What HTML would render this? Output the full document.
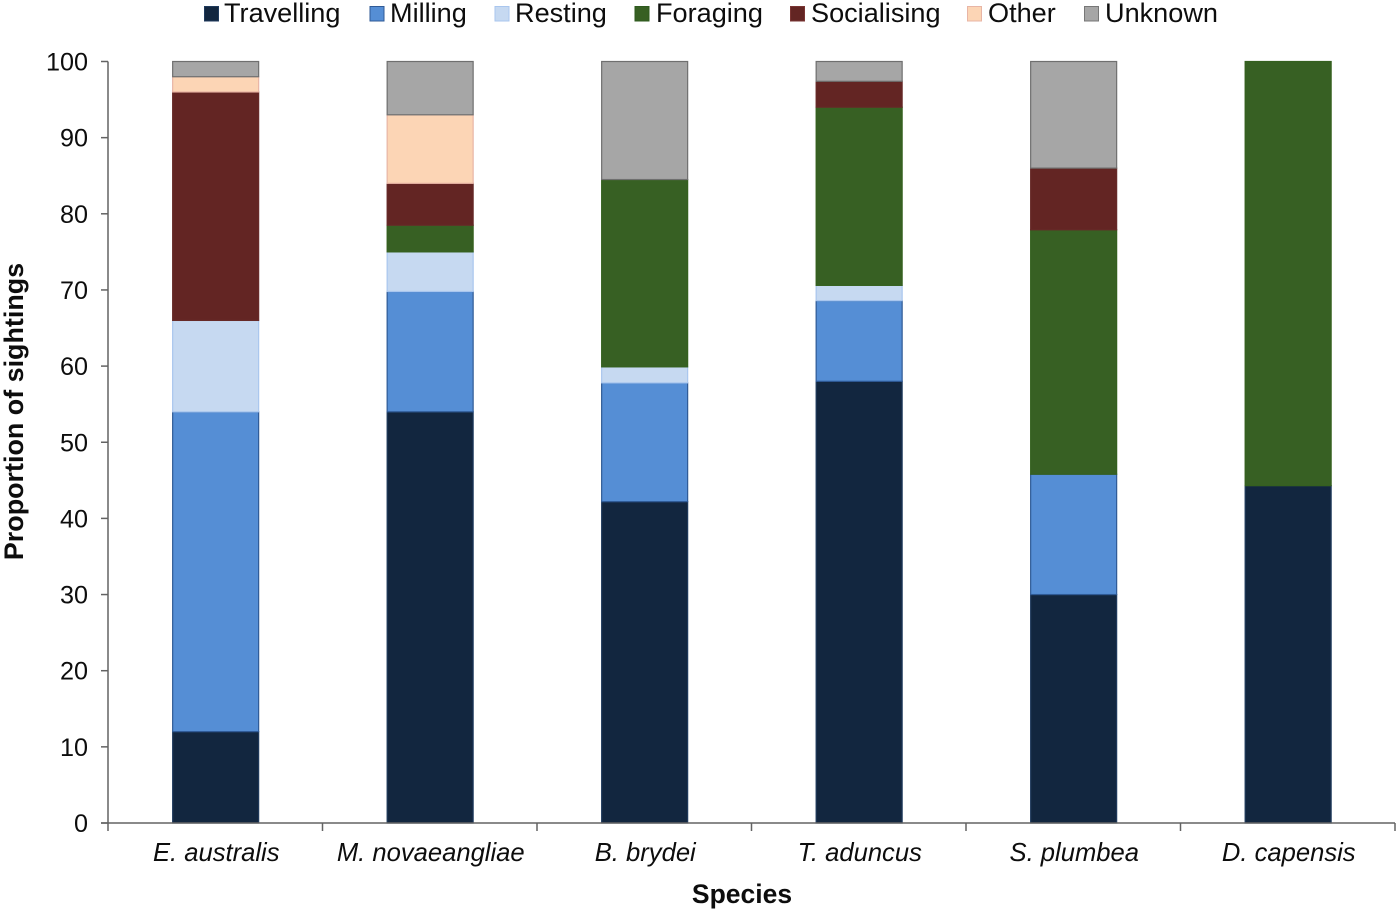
<!DOCTYPE html>
<html lang="en">
<head>
<meta charset="utf-8">
<title>Proportion of sightings by species</title>
<style>
  html, body { margin: 0; padding: 0; background: #fff; }
  svg { display: block; font-family: "Liberation Sans", Arial, sans-serif; fill: #0d0d0d; }
</style>
</head>
<body>
<svg id="chart" xmlns="http://www.w3.org/2000/svg" width="1400" height="912" viewBox="0 0 1400 912">
  <g font-size="27.1">
    <g><rect x="204.5" y="6.5" width="14" height="14.5" fill="#12263F" stroke="#1F3A5C"/><text x="224" y="22">Travelling</text></g>
    <g><rect x="370" y="6.5" width="14" height="14.5" fill="#558ED5" stroke="#2F5A96"/><text x="390" y="22">Milling</text></g>
    <g><rect x="495" y="6.5" width="14" height="14.5" fill="#C6D9F1" stroke="#A9C6EE"/><text x="515" y="22">Resting</text></g>
    <g><rect x="635" y="6.5" width="14" height="14.5" fill="#376023" stroke="#2E5A1E"/><text x="656" y="22">Foraging</text></g>
    <g><rect x="790.5" y="6.5" width="14" height="14.5" fill="#632523" stroke="#7A3533"/><text x="811" y="22">Socialising</text></g>
    <g><rect x="967.5" y="6.5" width="14" height="14.5" fill="#FCD5B5" stroke="#E8B5A5"/><text x="988" y="22">Other</text></g>
    <g><rect x="1084.5" y="6.5" width="14" height="14.5" fill="#A6A6A6" stroke="#777"/><text x="1105" y="22">Unknown</text></g>
  </g>
  <g id="bars"></g>
  <g id="axes"></g>
  <text transform="translate(23,411.5) rotate(-90)" text-anchor="middle" font-size="26.9" font-weight="bold">Proportion of sightings</text>
  <text x="742" y="903" text-anchor="middle" font-size="26.5" font-weight="bold">Species</text>
</svg>
<script>
const species = ["E. australis", "M. novaeangliae", "B. brydei", "T. aduncus", "S. plumbea", "D. capensis"];
const travelling = [12, 54, 42.2, 58, 30, 44.3];
const milling = [42, 15.8, 15.6, 10.6, 15.8, 0];
const resting = [12, 5.2, 2.1, 2, 0, 0];
const foraging = [0, 3.5, 24.6, 23.4, 32.1, 55.7];
const socialising = [30, 5.5, 0, 3.4, 8.1, 0];
const other = [2, 9, 0, 0, 0, 0];
const unknown = [2, 7, 15.5, 2.6, 14, 0];
const yTicks = [0, 10, 20, 30, 40, 50, 60, 70, 80, 90, 100];

const NS = "http://www.w3.org/2000/svg";
const plot = { left: 108, right: 1395, top: 61.5, bottom: 823 };
const series = [
  { key: "travelling", values: travelling, fill: "#12263F", stroke: "#1F3A5C" },
  { key: "milling", values: milling, fill: "#558ED5", stroke: "#2F5A96" },
  { key: "resting", values: resting, fill: "#C6D9F1", stroke: "#A9C6EE" },
  { key: "foraging", values: foraging, fill: "#376023", stroke: "#35601F" },
  { key: "socialising", values: socialising, fill: "#632523", stroke: "#662A28" },
  { key: "other", values: other, fill: "#FCD5B5", stroke: "#E8B5A5" },
  { key: "unknown", values: unknown, fill: "#A6A6A6", stroke: "#6F6F6F" }
];

function yScale(v) { return plot.bottom - (v / 100) * (plot.bottom - plot.top); }
function bandWidth() { return (plot.right - plot.left) / species.length; }
function bandCenter(i) { return plot.left + bandWidth() * (i + 0.5); }

function make(tag, attrs, parent) {
  const el = document.createElementNS(NS, tag);
  for (const k in attrs) el.setAttribute(k, attrs[k]);
  parent.appendChild(el);
  return el;
}

const barsGroup = document.getElementById("bars");
const axesGroup = document.getElementById("axes");
const barW = 86;

species.forEach(function (name, i) {
  let cum = 0;
  series.forEach(function (s) {
    const v = s.values[i];
    if (v <= 0) return;
    const y0 = yScale(cum);
    const y1 = yScale(cum + v);
    const r = make("rect", { x: bandCenter(i) + 0.4 - barW / 2, y: y1, width: barW, height: y0 - y1, fill: s.fill, stroke: s.stroke, "stroke-width": 1.2 }, barsGroup);
    
    
    cum += v;
  });
});

const axisColor = "#636363";
const yLine = make("line", { x1: plot.left, x2: plot.left, y1: plot.top, y2: plot.bottom, stroke: axisColor, "stroke-width": 1.5 }, axesGroup);


const xLine = make("line", { x1: plot.left - 7, x2: plot.right, y1: plot.bottom, y2: plot.bottom, stroke: axisColor, "stroke-width": 1.5 }, axesGroup);



yTicks.forEach(function (t) {
  const y = yScale(t);
  const tick = make("line", { x1: plot.left - 7, x2: plot.left, y1: y, y2: y, stroke: axisColor, "stroke-width": 1.5 }, axesGroup);
  
  
  const label = make("text", { x: 88, y: y + 9, "text-anchor": "end", "font-size": 25.2 }, axesGroup);
  
  
  label.textContent = t;
});

for (let i = 0; i <= species.length; i++) {
  const x = plot.left + bandWidth() * i;
  const tick = make("line", { x1: x, x2: x, y1: plot.bottom, y2: plot.bottom + 8, stroke: axisColor, "stroke-width": 1.5 }, axesGroup);
  
  
}

species.forEach(function (name, i) {
  const label = make("text", { x: bandCenter(i) + 1, y: 861, "text-anchor": "middle", "font-size": 25.6, "font-style": "italic" }, axesGroup);
  
  
  label.textContent = name;
});
</script>
</body>
</html>
